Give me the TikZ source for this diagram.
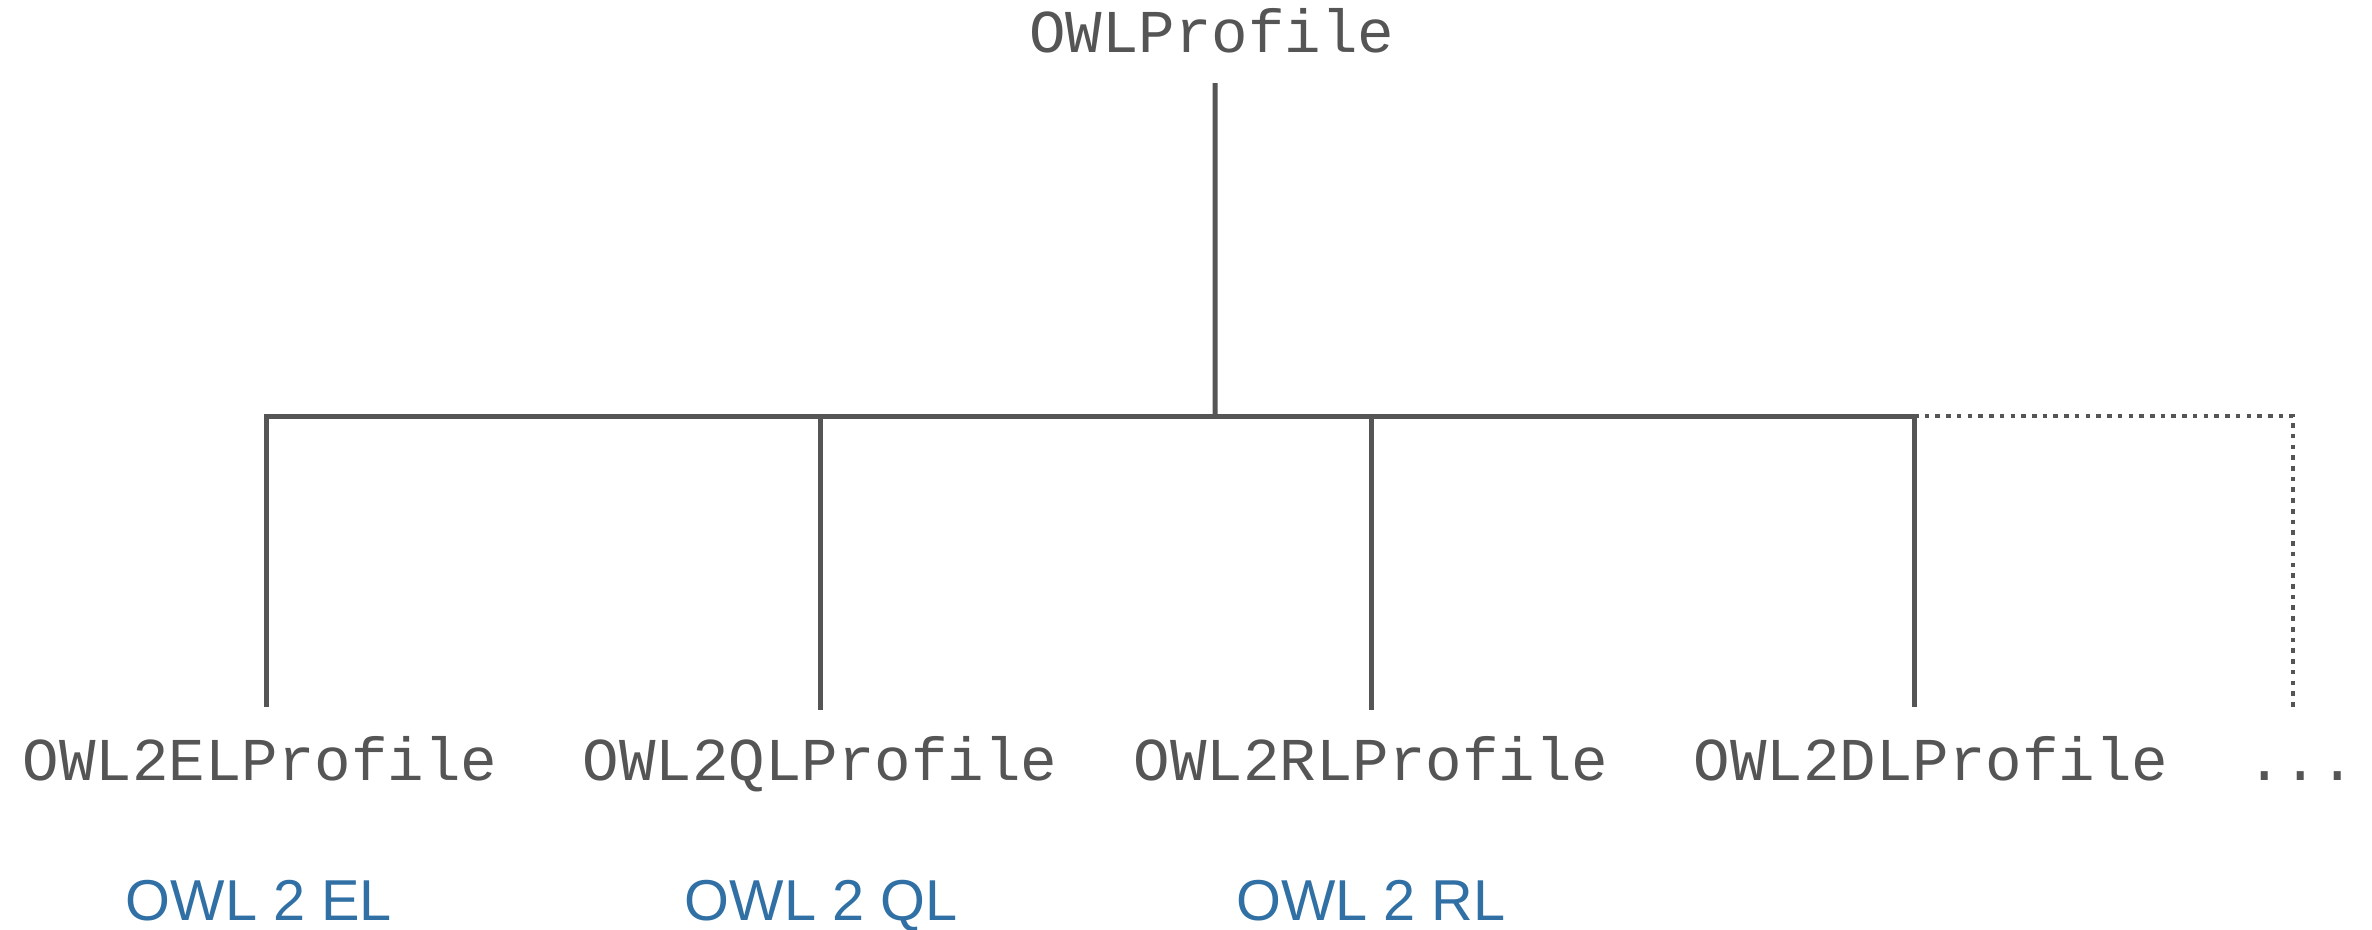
\documentclass[tikz,border=0pt]{standalone}
\usepackage{fontspec}
\setmainfont{Liberation Sans}
\newfontfamily\owlmono{Liberation Mono}
\definecolor{owlgray}{HTML}{555555}
\definecolor{owlblue}{HTML}{3070A5}
\tikzset{
  classname/.style={font=\owlmono\fontsize{17.3}{20}\selectfont, text=owlgray, anchor=base, inner sep=0pt},
  profilename/.style={font=\fontsize{16.4}{19}\selectfont, text=owlblue, anchor=base, inner sep=0pt, text depth=0pt},
  tree/.style={draw=owlgray, line width=1.42pt},
  more/.style={draw=owlgray, line width=1.3pt, dash pattern=on 1.3pt off 1.75pt}
}

\begin{document}
\begin{tikzpicture}[x=0.01cm, y=-0.01cm]
  \useasboundingbox (0,0) rectangle (2372,929);
  % class names
  \node[classname] (root) at (1212,52) {OWLProfile};
  \node[classname] (el) at (260,780) {OWL2ELProfile};
  \node[classname] (ql) at (820,780) {OWL2QLProfile};
  \node[classname] (rl) at (1371,780) {OWL2RLProfile};
  \node[classname] (dl) at (1931,780) {OWL2DLProfile};
  \node[classname] (etc) at (2301,780) {...};
  % profile names
  \node[profilename] (elname) at (259,920) {OWL 2 EL};
  \node[profilename] (qlname) at (821,920) {OWL 2 QL};
  \node[profilename] (rlname) at (1371,920) {OWL 2 RL};
  % tree
  \coordinate (hub) at (1215,416);
  \coordinate (elfoot) at ([xshift=0.06cm,yshift=0.73cm]el.base);
  \coordinate (dlfoot) at ([xshift=-0.17cm,yshift=0.73cm]dl.base);
  \coordinate (etcfoot) at ([xshift=-0.08cm,yshift=0.73cm]etc.base);
  \draw[tree] ([xshift=0.03cm,yshift=-0.31cm]root.base) -- (hub);
  \draw[tree] (elfoot) |- (hub) -| (dlfoot);
  \draw[tree] (hub -| ql) -- ([yshift=0.70cm]ql.base);
  \draw[tree] (hub -| rl) -- ([yshift=0.70cm]rl.base);
  \draw[more] (hub -| dlfoot) -| (etcfoot);
\end{tikzpicture}
\end{document}
